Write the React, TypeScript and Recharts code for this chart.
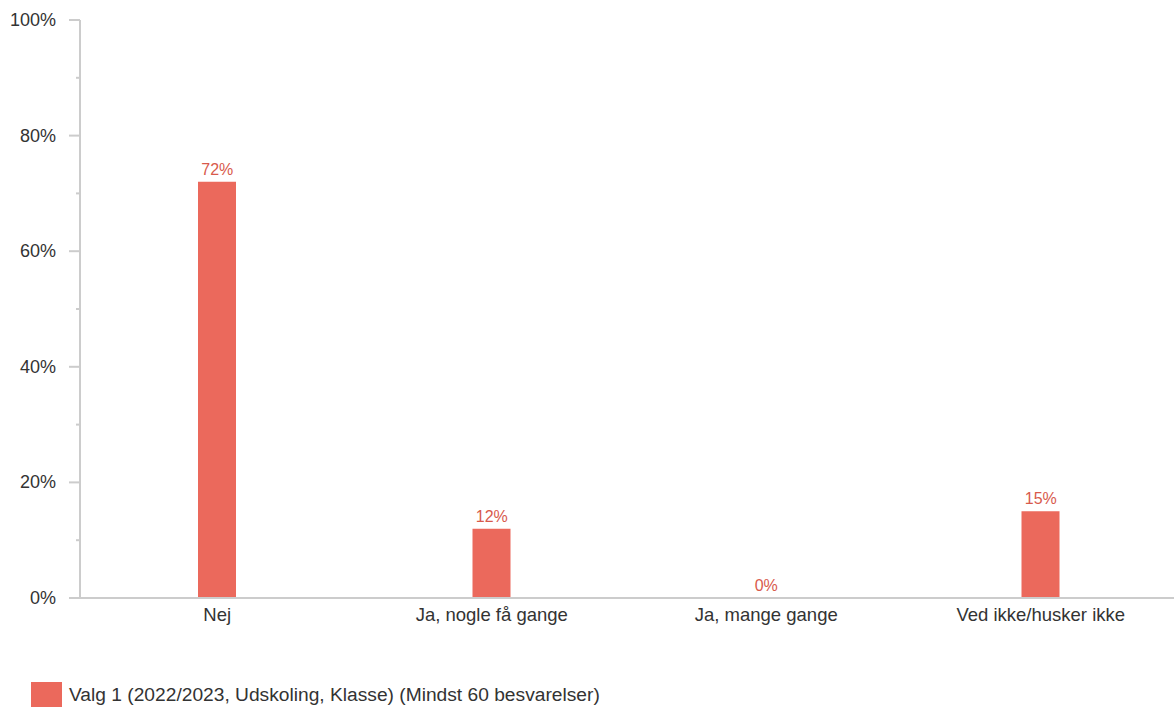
import { ComposedChart, Bar, Line, XAxis, YAxis, LabelList } from "recharts"

const categories = ["Nej", "Ja, nogle få gange", "Ja, mange gange", "Ved ikke/husker ikke"]
const values = [72, 12, 0, 15]
const yTicks = [0, 10, 20, 30, 40, 50, 60, 70, 80, 90, 100]
const seriesName = "Valg 1 (2022/2023, Udskoling, Klasse) (Mindst 60 besvarelser)"

const data = categories.map((name, i) => ({ name, value: values[i] }))

const BAR = "#EB695C"
const FONT = "'Liberation Sans', Arial, sans-serif"

function YTick(props: any) {
  const { x, y, payload } = props
  const major = payload.value % 20 === 0
  return (
    <g>
      <line x1={major ? x - 11 : x - 4} x2={x} y1={y} y2={y} stroke="#cccccc" strokeWidth={2} />
      {major && (
        <text x={x - 24} y={y} dy={6} textAnchor="end" fill="#333333" fontSize={18} fontFamily={FONT}>
          {payload.value}%
        </text>
      )}
    </g>
  )
}

function XTick(props: any) {
  const { x, y, payload } = props
  return (
    <text x={x} y={y} dy={23} textAnchor="middle" fill="#333333" fontSize={18.5} fontFamily={FONT}>
      {payload.value}
    </text>
  )
}

export default function App() {
  return (
    <div style={{ position: "absolute", left: 0, top: 0, width: 1174, height: 707, background: "#fff", overflow: "hidden" }}>
      <ComposedChart
        width={1174}
        height={707}
        data={data}
        margin={{ top: 20, right: -4, left: 0, bottom: 69 }}
      >
        <YAxis
          domain={[0, 100]}
          ticks={yTicks}
          interval={0}
          width={80}
          tickSize={0}
          tickMargin={0}
          tickLine={false}
          axisLine={{ stroke: "#cccccc", strokeWidth: 2 }}
          tick={<YTick />}
        />
        <XAxis
          dataKey="name"
          height={40}
          tickSize={0}
          tickMargin={0}
          tickLine={false}
          axisLine={{ stroke: "#cccccc", strokeWidth: 2 }}
          tick={<XTick />}
        />
        <Bar dataKey="value" fill={BAR} barSize={38} isAnimationActive={false} />
        <Line
          dataKey="value"
          stroke="none"
          dot={false}
          activeDot={false}
          legendType="none"
          isAnimationActive={false}
        >
          <LabelList
            dataKey="value"
            position="top"
            offset={7}
            formatter={(v: any) => `${v}%`}
            fill="#D85A4C"
            fontSize={16}
            fontFamily={FONT}
          />
        </Line>
      </ComposedChart>
      <div
        style={{
          position: "absolute",
          left: 31,
          top: 682,
          display: "flex",
          alignItems: "center",
          fontFamily: FONT,
          fontSize: 19.2,
          color: "#333333",
        }}
      >
        <div style={{ width: 31, height: 25, background: BAR, marginRight: 7 }} />
        <span>{seriesName}</span>
      </div>
    </div>
  )
}
